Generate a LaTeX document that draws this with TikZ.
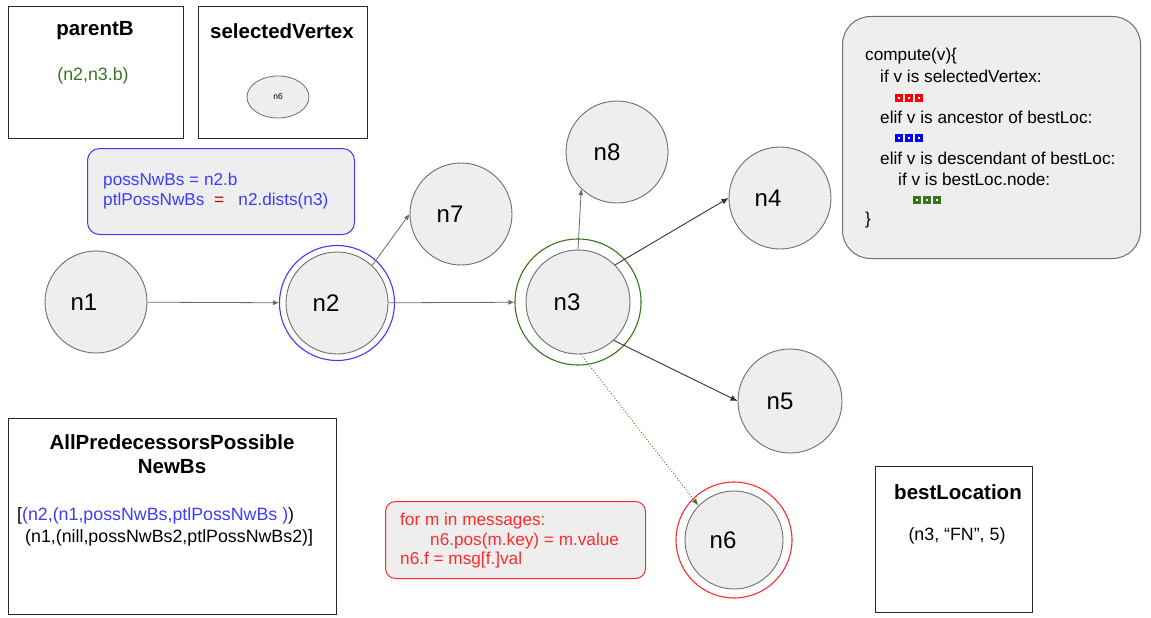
\documentclass[tikz,border=0pt]{standalone}
\usepackage{fontspec}
\setmainfont{Liberation Sans}
\usetikzlibrary{arrows.meta,shapes.geometric}
\definecolor{nodefill}{HTML}{EEEEEE}
\definecolor{nodeline}{HTML}{6E6E6E}
\definecolor{edgegray}{HTML}{6A6A6A}
\definecolor{edgedark}{HTML}{333333}
\definecolor{codeblue}{HTML}{3C3CFF}
\definecolor{codegreen}{HTML}{38761D}
\definecolor{codered}{HTML}{FF2B2B}
\tikzset{
  vertex/.style={circle, draw=nodeline, fill=nodefill, line width=0.9pt, inner sep=0pt},
  vlabel/.style={font=\fontsize{24}{26}\selectfont, inner sep=0pt},
  ring/.style={circle, draw=#1, line width=1.1pt, inner sep=0pt},
  infobox/.style={draw=black!85, line width=1pt, anchor=north west, inner sep=0pt},
  title/.style={font=\fontsize{20.5}{24}\selectfont\bfseries, align=center},
  body/.style={font=\fontsize{17.8}{21}\selectfont},
  codeline/.style={font=\fontsize{17.2}{20}\selectfont, anchor=west, inner sep=0pt},
  edge/.style={draw=edgegray, line width=0.8pt, -{Latex[length=6pt,width=5pt]}},
  darkedge/.style={draw=edgedark, line width=0.9pt, -{Latex[length=7pt,width=6pt]}},
}
\begin{document}
\begin{tikzpicture}[x=1pt,y=-1pt]
\useasboundingbox (0,0) rectangle (1151,618);

% ---- info boxes ----
\node[infobox, minimum width=175pt, minimum height=132pt] (parentbox) at (8,6) {};
\node[title] (parenttitle) at (95,31) {parentB};
\node[body, text=codegreen] (parentval) at (93,76) {(n2,n3.b)};

\node[infobox, minimum width=169pt, minimum height=132pt] (selbox) at (198,6) {};
\node[title] (seltitle) at (282,31) {selectedVertex};
\node[ellipse, draw=nodeline, fill=nodefill, line width=0.8pt, minimum width=62pt,
      minimum height=42pt, inner sep=0pt, font=\fontsize{8.5}{9}\selectfont] (selnode) at (278,97) {n6};

\node[infobox, minimum width=328pt, minimum height=196pt] (predbox) at (8,418) {};
\node[title] (predtitle) at (172,454) {AllPredecessorsPossible\\NewBs};
\node[body, anchor=west, inner sep=0pt] (predline1) at (17,516)
  {[\textcolor{codeblue}{(n2,(n1,possNwBs,ptlPossNwBs )})};
\node[body, anchor=west, inner sep=0pt] (predline2) at (25,538)
  {(n1,(nill,possNwBs2,ptlPossNwBs2)]};

\node[infobox, minimum width=157pt, minimum height=146pt] (bestbox) at (875,466) {};
\node[title] (besttitle) at (958,492) {bestLocation};
\node[body] (bestval) at (957,536) {(n3, “FN”, 5)};

% ---- blue note ----
\node[draw=codeblue, fill=nodefill, line width=1pt, rounded corners=12pt,
      minimum width=267pt, minimum height=86pt, anchor=north west] (bluenote) at (87,148) {};
\node[codeline, text=codeblue] (blue1) at (103,181) {possNwBs = n2.b};
\node[codeline, text=codeblue] (blue2) at (103,201)
  {ptlPossNwBs \ \textcolor{red!70!black}{=} \ \ n2.dists(n3)};

% ---- red note ----
\node[draw=codered, fill=nodefill, line width=1pt, rounded corners=10pt,
      minimum width=260pt, minimum height=77pt, anchor=north west] (rednote) at (385,501) {};
\node[codeline, text=codered] (red1) at (400,521) {for m in messages:};
\node[codeline, text=codered] (red2) at (430,541) {n6.pos(m.key) = m.value};
\node[codeline, text=codered] (red3) at (400,560) {n6.f = msg[f.]val};

% ---- compute box ----
\node[draw=nodeline, fill=nodefill, line width=1pt, rounded corners=28pt,
      minimum width=298pt, minimum height=242pt, anchor=north west] (codebox) at (842,16) {};
\node[codeline] (c1) at (865,56) {compute(v)\{};
\node[codeline] (c2) at (880,76) {if v is selectedVertex:};
\node[codeline] (c3) at (880,117) {elif v is ancestor of bestLoc:};
\node[codeline] (c4) at (880,158) {elif v is descendant of bestLoc:};
\node[codeline] (c5) at (898,179) {if v is bestLoc.node:};
\node[codeline] (c6) at (865,220) {\}};
\foreach \col/\sx/\sy in {red/895/98, blue/895/138, codegreen/913/200}{
  \foreach \k in {0,1,2}{
    \fill[\col] (\sx+\k*10,\sy-4) rectangle ++(8,8);
    \fill[white] (\sx+\k*10+3,\sy-1) rectangle ++(2,2);
  }
}

% ---- graph ----
\node[vertex, minimum size=102pt] (n1) at (96,302) {};
\node[vertex, minimum size=102pt] (n2) at (337,303) {};
\node[ring=codeblue, minimum size=115pt] (n2ring) at (337,303) {};
\node[vertex, minimum size=102pt] (n7) at (461,214) {};
\node[vertex, minimum size=104pt] (n3) at (578,302) {};
\node[ring=codegreen, minimum size=126pt] (n3ring) at (578,302) {};
\node[vertex, minimum size=102pt] (n8) at (617,152) {};
\node[vertex, minimum size=102pt] (n4) at (780,198) {};
\node[vertex, minimum size=104pt] (n5) at (790,401) {};
\node[vertex, minimum size=98pt] (n6) at (734,540) {};
\node[ring=codered, minimum size=116pt] (n6ring) at (734,540) {};

% vertex names, set a little left of centre
\node[vlabel] (n1name) at ([xshift=-12pt]n1.center) {n1};
\node[vlabel] (n2name) at ([xshift=-11pt]n2.center) {n2};
\node[vlabel] (n7name) at ([xshift=-11pt]n7.center) {n7};
\node[vlabel] (n3name) at ([xshift=-11pt]n3.center) {n3};
\node[vlabel] (n8name) at ([xshift=-10pt]n8.center) {n8};
\node[vlabel] (n4name) at ([xshift=-12pt]n4.center) {n4};
\node[vlabel] (n5name) at ([xshift=-10pt]n5.center) {n5};
\node[vlabel] (n6name) at ([xshift=-11pt]n6.center) {n6};

\draw[edge] (n1) -- (n2ring);
\draw[edge] (n2) -- (n3ring);
\draw[edge] (n2.47) -- (n7.west);
\draw[edge] (n3.north) -- (n8.226);
\draw[darkedge] (n3.45) -- (n4.west);
\draw[darkedge] (n3.-47) -- (n5.west);
\draw[draw=codegreen, line width=0.9pt, dotted, -{Latex[length=7pt,width=5pt]}]
  (n3.-87) -- (n6.136);
\end{tikzpicture}
\end{document}
